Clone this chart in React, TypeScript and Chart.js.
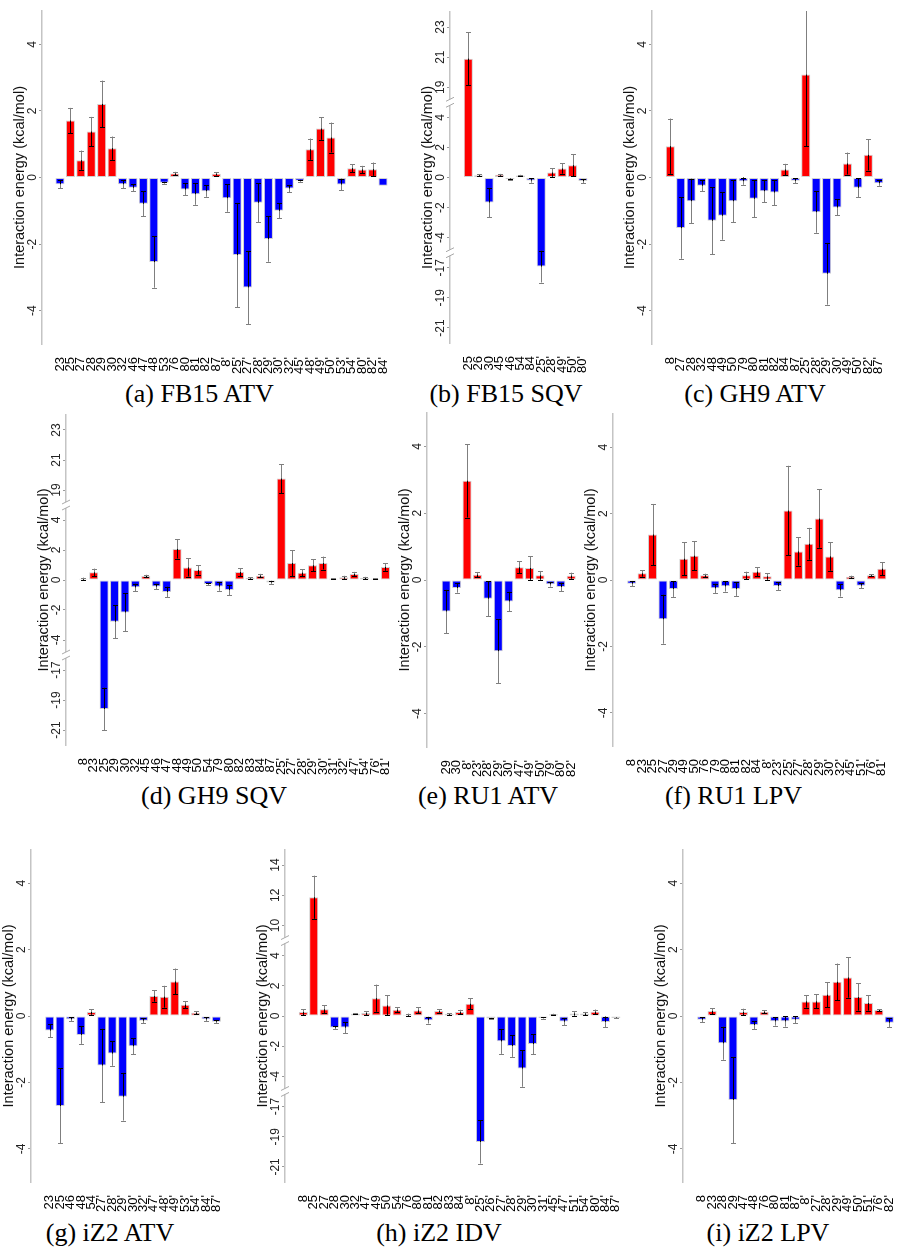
import React, { useEffect, useRef } from "react";
import { Chart, registerables } from "chart.js";

Chart.register(...registerables);

// ---------- data ----------
// (a) FB15 ATV
const aLabels = ["23","25","27","28","29","30","32","46","47","48","53","76","80","81","82","87","8'","25'","27'","28'","29'","30'","32'","45'","48'","49'","50'","53'","54'","80'","82'","84'"];
const aValues = [-0.2,1.71,0.52,1.38,2.21,0.88,-0.2,-0.31,-0.79,-2.54,-0.16,0.12,-0.36,-0.5,-0.41,0.11,-0.62,-2.33,-3.3,-0.76,-1.85,-1.0,-0.33,-0.1,0.85,1.47,1.2,-0.21,0.28,0.24,0.25,-0.25];
const aErrors = [0.13,0.38,0.29,0.44,0.7,0.35,0.12,0.11,0.37,0.77,0.03,0.05,0.18,0.32,0.17,0.05,0.41,1.57,1.1,0.58,0.68,0.23,0.11,0.03,0.32,0.34,0.45,0.17,0.12,0.11,0.2,0];

// (b) FB15 SQV
const bLabels = ["25","26","30","45","46","54","84","25'","28'","49'","50'","80'"];
const bValues = [20.9,0.15,-1.66,0.18,-0.11,0.13,-0.2,-16.92,0.33,0.6,0.82,-0.24];
const bErrors = [1.75,0.05,0.97,0.06,0.04,0.05,0.15,1.06,0.28,0.35,0.73,0.13];

// (c) GH9 ATV
const cLabels = ["8","27","28","32","48","49","50","79","80","81","82","84","87","25'","28'","29'","30'","49'","50'","82'","87'"];
const cValues = [0.94,-1.52,-0.71,-0.25,-1.3,-1.15,-0.71,-0.11,-0.64,-0.41,-0.45,0.24,-0.1,3.09,-1.04,-2.89,-0.9,0.42,-0.31,0.68,-0.17];
const cErrors = [0.83,0.92,0.67,0.16,1.0,0.72,0.63,0.11,0.56,0.34,0.38,0.17,0.07,2.15,0.62,0.93,0.24,0.33,0.28,0.47,0.08];

// (d) GH9 SQV
const dLabels = ["8","23","25","29","30","32","45","46","47","48","49","50","54","79","80","82","83","84","87","25'","27'","28'","29'","30'","31'","32'","47'","54'","76'","81'"];
const dValues = [0.09,0.51,-19.6,-2.78,-2.16,-0.49,0.27,-0.44,-0.8,2.07,0.84,0.67,-0.27,-0.44,-0.67,0.53,0.13,0.29,-0.16,19.76,1.13,0.49,0.98,1.13,0.09,0.18,0.4,0.13,0.09,0.87];
const dErrors = [0.07,0.25,1.43,1.09,1.27,0.25,0.08,0.19,0.36,0.64,0.61,0.32,0.07,0.28,0.33,0.27,0.04,0.12,0.1,0.97,0.87,0.24,0.41,0.43,0.03,0.1,0.14,0.08,0.03,0.26];

// (e) RU1 ATV
const eLabels = ["29","30","8'","23'","28'","29'","30'","47'","49'","50'","79'","80'","82'"];
const eValues = [-0.94,-0.24,2.97,0.16,-0.56,-2.13,-0.64,0.38,0.36,0.14,-0.13,-0.21,0.13];
const eErrors = [0.65,0.14,1.1,0.08,0.52,0.96,0.29,0.18,0.35,0.13,0.07,0.13,0.09];

// (f) RU1 LPV
const fLabels = ["8","23","25","27","29","49","50","76","79","80","81","82","84","8'","23'","25'","27'","28'","29'","30'","32'","45'","51'","76'","81'"];
const fValues = [-0.11,0.2,1.37,-1.18,-0.27,0.64,0.73,0.14,-0.25,-0.19,-0.27,0.14,0.25,0.11,-0.18,2.09,0.86,1.09,1.85,0.71,-0.31,0.1,-0.17,0.14,0.34];
const fErrors = [0.08,0.1,0.92,0.74,0.24,0.49,0.43,0.05,0.14,0.16,0.21,0.11,0.14,0.1,0.12,1.35,0.43,0.48,0.88,0.43,0.19,0.03,0.07,0.03,0.2];

// (g) iZ2 ATV
const gLabels = ["23","25","46","48","54","27'","28'","29'","30'","32'","47'","48'","49'","53'","54'","84'","87'"];
const gValues = [-0.44,-2.71,-0.1,-0.57,0.12,-1.49,-1.13,-2.43,-0.91,-0.14,0.6,0.58,1.04,0.34,0.1,-0.1,-0.17];
const gErrors = [0.2,1.13,0.06,0.27,0.08,1.11,0.37,0.72,0.24,0.07,0.17,0.33,0.39,0.11,0.04,0.06,0.05];

// (h) iZ2 IDV
const hLabels = ["8","25","27","28","30","32","47","49","50","54","76","80","81","82","83","84","8'","25'","26'","27'","28'","29'","30'","31'","45'","47'","51'","54'","80'","84'","87'"];
const hValues = [0.26,11.87,0.44,-0.77,-0.77,0.15,0.2,1.18,0.7,0.42,0.09,0.37,-0.28,0.33,0.13,0.26,0.81,-19.35,-0.17,-1.68,-1.99,-3.48,-1.86,-0.13,0.11,-0.37,0.17,0.17,0.28,-0.39,-0.13];
const hErrors = [0.2,1.43,0.27,0.1,0.38,0.04,0.13,0.9,0.66,0.15,0.07,0.2,0.22,0.11,0.05,0.15,0.36,1.43,0.04,0.83,0.72,1.21,0.66,0.04,0.04,0.24,0.14,0.1,0.15,0.35,0.03];

// (i) iZ2 LPV
const iLabels = ["8","23","28","29","47","48","76","80","81","87","8'","27'","28'","29'","49'","50'","51'","76'","82'"];
const iValues = [-0.11,0.15,-0.82,-2.53,0.12,-0.27,0.13,-0.16,-0.16,-0.11,0.44,0.44,0.64,1.03,1.16,0.57,0.39,0.18,-0.2];
const iErrors = [0.07,0.09,0.5,1.3,0.1,0.12,0.04,0.13,0.16,0.11,0.19,0.21,0.37,0.55,0.61,0.41,0.23,0.03,0.13];

// y tick labels (real values)
const PLAIN_TICKS = [4, 2, 0, -2, -4];
const SQV_TICKS = [23, 21, 19, 4, 2, 0, -2, -4, -17, -19, -21];
const IDV_TICKS = [14, 12, 10, 4, 2, 0, -2, -4, -17, -19, -21];

const Y_TITLE = "Interaction energy (kcal/mol)";

// ---------- axis kinds (broken axes) ----------
type AxisKind = { ticks: number[]; upShift: number; lowShift: number; broken: boolean; range: number };
const PLAIN: AxisKind = { ticks: PLAIN_TICKS, upShift: 0, lowShift: 0, broken: false, range: 5 };
const SQV: AxisKind = { ticks: SQV_TICKS, upShift: 13, lowShift: 11, broken: true, range: 11 };
const IDV: AxisKind = { ticks: IDV_TICKS, upShift: 4, lowShift: 11, broken: true, range: 11 };

function toDisplay(v: number, ax: AxisKind): number {
  if (!ax.broken) return v;
  if (v > 8) return v - ax.upShift;
  if (v < -8) return v + ax.lowShift;
  return v;
}

// ---------- layout ----------
const SPACING = 10.42;
const LW = 44; // y-axis box width
const PT = 2; // top padding
const XH = 34; // x-axis label box height
const SANS = '"Liberation Sans", Arial, sans-serif';
const RED = "#ff0000";
const BLUE = "#0000ff";
const GREY = "#7f7f7f";
const AXIS_COLOR = "#c4c4c4";
const CAP_SIZE = 26;

type Panel = {
  key: string; caption: string; labels: string[]; values: number[]; errors: number[]; axis: AxisKind;
  axisX: number; top: number; bottom: number; first: number; capX: number; capY: number;
};

const PANELS: Panel[] = [
  { key: "a", caption: "(a) FB15 ATV", labels: aLabels, values: aValues, errors: aErrors, axis: PLAIN, axisX: 41.7, top: 11, bottom: 343.5, first: 60, capX: 199.5, capY: 403 },
  { key: "b", caption: "(b) FB15 SQV", labels: bLabels, values: bValues, errors: bErrors, axis: SQV, axisX: 450, top: 12, bottom: 343, first: 468.3, capX: 506, capY: 403 },
  { key: "c", caption: "(c) GH9 ATV", labels: cLabels, values: cValues, errors: cErrors, axis: PLAIN, axisX: 651.7, top: 11, bottom: 343.5, first: 670.3, capX: 755, capY: 403 },
  { key: "d", caption: "(d) GH9 SQV", labels: dLabels, values: dValues, errors: dErrors, axis: SQV, axisX: 65.7, top: 415, bottom: 745, first: 83.3, capX: 214, capY: 805 },
  { key: "e", caption: "(e) RU1 ATV", labels: eLabels, values: eValues, errors: eErrors, axis: PLAIN, axisX: 427.3, top: 413.3, bottom: 747, first: 446.2, capX: 488, capY: 805 },
  { key: "f", caption: "(f) RU1 LPV", labels: fLabels, values: fValues, errors: fErrors, axis: PLAIN, axisX: 613.3, top: 414, bottom: 746, first: 631.7, capX: 733.5, capY: 805 },
  { key: "g", caption: "(g) iZ2 ATV", labels: gLabels, values: gValues, errors: gErrors, axis: PLAIN, axisX: 31, top: 850, bottom: 1182, first: 49.7, capX: 110, capY: 1242 },
  { key: "h", caption: "(h) iZ2 IDV", labels: hLabels, values: hValues, errors: hErrors, axis: IDV, axisX: 285, top: 850, bottom: 1182, first: 303.3, capX: 439, capY: 1242 },
  { key: "i", caption: "(i) iZ2 LPV", labels: iLabels, values: iValues, errors: iErrors, axis: PLAIN, axisX: 683.3, top: 850, bottom: 1182, first: 701.7, capX: 768, capY: 1242 },
];

function geom(p: Panel) {
  const left = Math.round(p.axisX - LW);
  const axisX = left + LW;
  const min = -(p.first - axisX) / SPACING;
  const maxNominal = p.labels.length - 1 + 0.7;
  const W = Math.round(LW + (maxNominal - min) * SPACING);
  const max = min + (W - LW) / SPACING;
  const top = Math.round(p.top - PT);
  const plotH = Math.round(p.bottom - p.top);
  const H = PT + plotH + XH;
  return { left, top, W, H, min, max };
}

function measureWidest(labels: string[], font: string): number {
  const c = document.createElement("canvas").getContext("2d")!;
  c.font = font;
  let w = 0;
  labels.forEach((l) => { w = Math.max(w, c.measureText(l).width); });
  return w;
}

function line(ctx: CanvasRenderingContext2D, x1: number, y1: number, x2: number, y2: number) {
  ctx.beginPath();
  ctx.moveTo(x1, y1);
  ctx.lineTo(x2, y2);
  ctx.stroke();
}

function makeOverlay(p: Panel) {
  return {
    id: "overlay_" + p.key,
    afterDatasetsDraw(chart: any) {
      const { ctx, chartArea } = chart;
      const ys = chart.scales.y;
      const meta = chart.getDatasetMeta(0);
      ctx.save();
      ctx.beginPath();
      ctx.rect(chartArea.left, chartArea.top, chartArea.right - chartArea.left, chartArea.bottom - chartArea.top);
      ctx.clip();
      ctx.lineWidth = 1;
      meta.data.forEach((el: any, i: number) => {
        const v = p.values[i];
        const e = p.errors[i];
        if (!e) return;
        const x = Math.round(el.x) + 0.5;
        const y0 = ys.getPixelForValue(0);
        const yv = ys.getPixelForValue(toDisplay(v, p.axis));
        const yHi = ys.getPixelForValue(toDisplay(v + e, p.axis));
        const yLo = ys.getPixelForValue(toDisplay(v - e, p.axis));
        const bTop = Math.min(y0, yv);
        const bBot = Math.max(y0, yv);
        const sTop = Math.min(yHi, yLo);
        const sBot = Math.max(yHi, yLo);
        ctx.strokeStyle = GREY;
        line(ctx, x, sTop, x, sBot);
        const iTop = Math.max(sTop, bTop);
        const iBot = Math.min(sBot, bBot);
        if (iBot > iTop) {
          ctx.strokeStyle = "#000";
          line(ctx, x, iTop, x, iBot);
        }
        [sTop, sBot].forEach((yc) => {
          ctx.strokeStyle = yc >= bTop && yc <= bBot ? "#000" : GREY;
          const yy = Math.round(yc) + 0.5;
          line(ctx, x - 2.5, yy, x + 2.5, yy);
        });
      });
      ctx.restore();
    },
    afterDraw(chart: any) {
      if (!p.axis.broken) return;
      const { ctx, chartArea } = chart;
      const ys = chart.scales.y;
      const x = chartArea.left;
      ctx.save();
      [5, -5].forEach((d) => {
        const py = ys.getPixelForValue(d);
        ctx.fillStyle = "#fff";
        ctx.fillRect(x - 3, py - 3, 6, 6);
        ctx.strokeStyle = "#a8a8a8";
        ctx.lineWidth = 1;
        line(ctx, x - 4, py - 1, x + 4, py - 5);
        line(ctx, x - 4, py + 5, x + 4, py + 1);
      });
      ctx.restore();
    },
  };
}

function PanelChart({ p }: { p: Panel }) {
  const ref = useRef<HTMLCanvasElement>(null);
  const g = geom(p);
  useEffect(() => {
    const canvas = ref.current;
    if (!canvas) return;
    const ax = p.axis;
    const tickStrings = ax.ticks.map((t) => String(t));
    const tickFontSize = 12;
    const widest = measureWidest(tickStrings, `${tickFontSize}px ${SANS}`);
    const tickLen = 3;
    const yPad = 9 - tickLen - widest / 2;
    const titleSize = 14.5;
    const titlePadTop = LW - 21.7 - (titleSize * 1.2) / 2;

    const chart = new Chart(canvas, {
      type: "bar",
      data: {
        datasets: [
          {
            data: p.values.map((v, i) => ({ x: i, y: toDisplay(v, ax) })) as any,
            backgroundColor: p.values.map((v) => (v > 0 ? RED : BLUE)),
            borderColor: "#d0d0d0",
            borderWidth: 1,
            borderSkipped: false,
            barPercentage: 0.87,
            categoryPercentage: 1,
          },
        ],
      },
      options: {
        responsive: false,
        animation: false,
        events: [],
        devicePixelRatio: 1,
        layout: { padding: { top: PT, left: 0, right: 0, bottom: 0 }, autoPadding: false },
        plugins: { legend: { display: false }, tooltip: { enabled: false }, title: { display: false } },
        scales: {
          x: {
            type: "linear",
            min: g.min,
            max: g.max,
            offset: false,
            grid: { display: false, offset: false },
            border: { display: false },
            afterBuildTicks: (s: any) => {
              s.ticks = p.labels.map((_, i) => ({ value: i }));
            },
            afterFit: (s: any) => {
              s.height = XH;
              s.paddingLeft = 0;
              s.paddingRight = 0;
            },
            ticks: {
              autoSkip: false,
              minRotation: 90,
              maxRotation: 90,
              padding: 5,
              color: "#000",
              font: { family: SANS, size: 13 },
              callback: (val: any) => p.labels[Math.round(Number(val))] ?? "",
            },
          },
          y: {
            type: "linear",
            min: -ax.range,
            max: ax.range,
            grid: { display: true, drawOnChartArea: false, drawTicks: true, tickLength: tickLen, color: "#9a9a9a", lineWidth: 1 },
            border: { display: true, color: AXIS_COLOR, width: 1.5 },
            afterBuildTicks: (s: any) => {
              s.ticks = ax.ticks.map((t) => ({ value: toDisplay(t, ax) }));
            },
            afterFit: (s: any) => {
              s.width = LW;
              s.paddingTop = 0;
              s.paddingBottom = 0;
            },
            ticks: {
              autoSkip: false,
              minRotation: 90,
              maxRotation: 90,
              crossAlign: "center",
              padding: yPad,
              color: "#222",
              font: { family: SANS, size: tickFontSize },
              callback: (_val: any, index: number) => tickStrings[index] ?? "",
            },
            title: {
              display: true,
              text: Y_TITLE,
              color: "#111",
              font: { family: SANS, size: titleSize },
              padding: { top: titlePadTop, bottom: 0 },
            },
          },
        },
      } as any,
      plugins: [makeOverlay(p)],
    });
    return () => chart.destroy();
  }, []);
  return (
    <canvas
      ref={ref}
      width={g.W}
      height={g.H}
      style={{ position: "absolute", left: g.left, top: g.top, width: g.W, height: g.H }}
    />
  );
}

export default function App() {
  return (
    <div style={{ position: "absolute", left: 0, top: 0, width: 899, height: 1247, overflow: "hidden", background: "#fff" }}>
      {PANELS.map((p) => (
        <PanelChart key={p.key} p={p} />
      ))}
      {PANELS.map((p) => (
        <div
          key={"cap" + p.key}
          style={{
            position: "absolute",
            left: p.capX - 150,
            width: 300,
            top: p.capY - 0.8375 * CAP_SIZE,
            textAlign: "center",
            fontFamily: '"Liberation Serif", serif',
            fontSize: CAP_SIZE,
            lineHeight: CAP_SIZE + "px",
            color: "#000",
            whiteSpace: "nowrap",
          }}
        >
          {p.caption}
        </div>
      ))}
    </div>
  );
}
